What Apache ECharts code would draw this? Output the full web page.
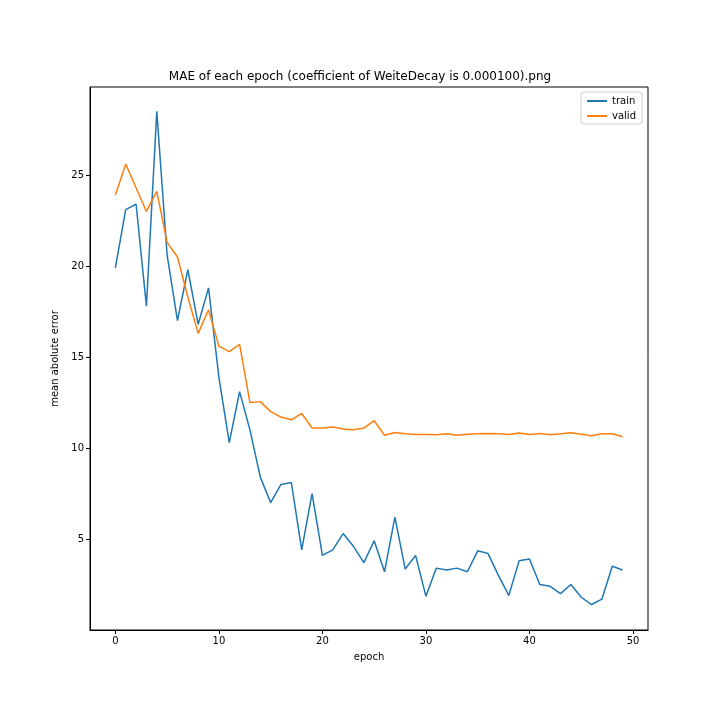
<!DOCTYPE html>
<html><head><meta charset="utf-8">
<script src="https://cdn.jsdelivr.net/npm/echarts@6/dist/echarts.min.js"></script>
<style>html,body{margin:0;padding:0;background:#fff}#c{width:720px;height:720px}</style>
</head><body><div id="c"></div>
<script>
var epochs = [];
for (var i = 0; i < 50; i++) epochs.push(i);
var train = [19.9,23.1,23.4,17.8,28.5,20.6,17.0,19.8,16.8,18.8,
  13.9,10.3,13.1,11.0,8.4,7.0,8.0,8.1,4.4,7.5,
  4.1,4.4,5.3,4.6,3.7,4.9,3.2,6.2,3.35,4.1,
  1.85,3.4,3.3,3.4,3.2,4.35,4.2,3.0,1.9,3.8,
  3.9,2.5,2.4,2.0,2.5,1.8,1.4,1.7,3.5,3.3];
var valid = [23.9,25.6,24.3,23.0,24.1,21.3,20.5,18.3,16.3,17.6,
  15.6,15.3,15.7,12.5,12.55,12.0,11.7,11.55,11.9,11.1,
  11.1,11.15,11.05,11.0,11.1,11.5,10.7,10.85,10.78,10.75,
  10.75,10.73,10.78,10.7,10.76,10.78,10.8,10.78,10.74,10.83,
  10.74,10.8,10.73,10.78,10.84,10.76,10.68,10.78,10.78,10.62];
var xTicks = [0,10,20,30,40,50];
var yTicks = [5,10,15,20,25];

function pairs(arr){ return arr.map(function(v,i){ return [epochs[i], v]; }); }
var font = 'DejaVu Sans';
var chart = echarts.init(document.getElementById('c'));
chart.setOption({
  animation: false,
  title: { text: 'MAE of each epoch (coefficient of WeiteDecay is 0.000100).png', left: 'center', top: 66,
    textStyle: { fontFamily: font, fontSize: 12, fontWeight: 'normal', color: '#000' } },
  grid: { left: 90, right: 72, top: 87, bottom: 90, show: true, borderColor: '#000', borderWidth: 1 },
  legend: { orient: 'vertical', right: 78, top: 92, data: ['train','valid'],
    itemWidth: 20, itemHeight: 2, itemGap: 5, icon: 'rect',
    backgroundColor: '#fff', borderColor: '#ccc', borderWidth: 1, borderRadius: 3, padding: [4,6,3,6],
    textStyle: { fontFamily: font, fontSize: 10, color: '#000' } },
  xAxis: { type: 'value', min: -2.45, max: 51.45, interval: 10,
    name: 'epoch', nameLocation: 'middle', nameGap: 22,
    nameTextStyle: { fontFamily: font, fontSize: 10, color: '#000' },
    splitLine: { show: false },
    axisLine: { show: true, onZero: false, lineStyle: { color: '#000' } },
    axisTick: { show: true, length: 4, lineStyle: { color: '#000' }, customValues: xTicks },
    axisLabel: { fontFamily: font, fontSize: 10, color: '#000', margin: 6, customValues: xTicks,
      formatter: function(v){ return xTicks.indexOf(v) >= 0 ? String(v) : ''; } } },
  yAxis: { type: 'value', min: 0, max: 29.84, interval: 5,
    name: 'mean abolute error', nameLocation: 'middle', nameGap: 28,
    nameTextStyle: { fontFamily: font, fontSize: 10, color: '#000' },
    splitLine: { show: false },
    axisLine: { show: true, onZero: false, lineStyle: { color: '#000' } },
    axisTick: { show: true, length: 4, lineStyle: { color: '#000' }, customValues: yTicks },
    axisLabel: { fontFamily: font, fontSize: 10, color: '#000', margin: 6, customValues: yTicks,
      formatter: function(v){ return yTicks.indexOf(v) >= 0 ? String(v) : ''; } } },
  series: [
    { name: 'train', type: 'line', data: pairs(train), showSymbol: false, symbol: 'none',
      lineStyle: { color: '#1f77b4', width: 1.5 }, itemStyle: { color: '#1f77b4' } },
    { name: 'valid', type: 'line', data: pairs(valid), showSymbol: false, symbol: 'none',
      lineStyle: { color: '#ff7f0e', width: 1.5 }, itemStyle: { color: '#ff7f0e' } }
  ]
});
</script></body></html>
